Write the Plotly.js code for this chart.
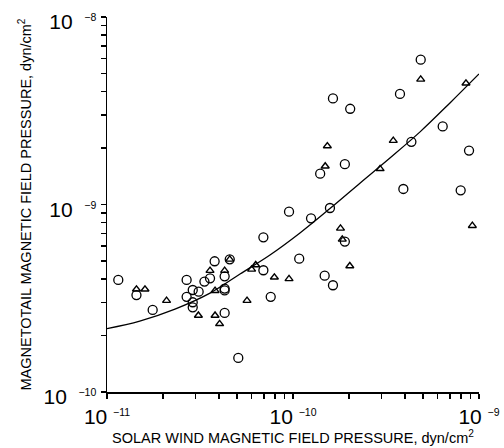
<!DOCTYPE html>
<html>
<head>
<meta charset="utf-8">
<script src="https://cdn.plot.ly/plotly-3.0.1.min.js"></script>
<style>
  html, body { margin: 0; padding: 0; background: #fff; }
  #chart { width: 504px; height: 448px; }
</style>
</head>
<body>
<div id="chart"></div>
<script>
// Solar wind vs. magnetotail magnetic field pressure (dyn/cm^2)

// Open-circle observations
const circleSolarWind = [
  1.15e-11, 1.44e-11, 1.76e-11, 2.68e-11, 2.68e-11, 2.89e-11, 2.89e-11, 2.89e-11,
  3.11e-11, 3.34e-11, 3.58e-11, 3.79e-11, 4.29e-11, 4.29e-11, 4.29e-11, 4.29e-11,
  4.57e-11, 5.08e-11, 6.93e-11, 6.93e-11, 7.59e-11, 9.52e-11, 1.08e-10, 1.25e-10,
  1.40e-10, 1.48e-10, 1.58e-10, 1.64e-10, 1.64e-10, 1.90e-10, 1.90e-10, 2.03e-10,
  3.76e-10, 3.92e-10, 4.33e-10, 4.86e-10, 6.38e-10, 7.97e-10, 8.84e-10
];
const circleTail = [
  3.96e-10, 3.29e-10, 2.74e-10, 3.96e-10, 3.22e-10, 3.50e-10, 3.01e-10, 2.83e-10,
  3.43e-10, 3.88e-10, 4.04e-10, 4.98e-10, 4.14e-10, 3.56e-10, 3.48e-10, 2.64e-10,
  5.10e-10, 1.52e-10, 6.68e-10, 4.46e-10, 3.22e-10, 9.16e-10, 5.14e-10, 8.44e-10,
  1.46e-9, 4.17e-10, 9.58e-10, 3.68e-9, 3.71e-10, 1.64e-9, 6.34e-10, 3.24e-9,
  3.89e-9, 1.21e-9, 2.16e-9, 5.92e-9, 2.61e-9, 1.19e-9, 1.94e-9
];

// Open-triangle observations
const triangleSolarWind = [
  1.44e-11, 1.60e-11, 2.09e-11, 3.10e-11, 3.58e-11, 3.81e-11, 3.81e-11, 4.03e-11,
  4.29e-11, 4.57e-11, 5.66e-11, 5.99e-11, 6.30e-11, 7.94e-11, 9.52e-11, 1.49e-10,
  1.53e-10, 1.80e-10, 1.84e-10, 2.02e-10, 2.94e-10, 3.46e-10, 4.86e-10, 8.51e-10,
  9.21e-10
];
const triangleTail = [
  3.53e-10, 3.53e-10, 3.07e-10, 2.56e-10, 4.44e-10, 3.47e-10, 2.56e-10, 2.31e-10,
  4.44e-10, 5.10e-10, 3.07e-10, 4.51e-10, 4.76e-10, 4.09e-10, 4.01e-10, 1.60e-9,
  2.05e-9, 7.46e-10, 6.52e-10, 4.70e-10, 1.55e-9, 2.19e-9, 4.65e-9, 4.43e-9,
  7.71e-10
];

// Fitted relation
const fitSolarWind = [
  1.00e-11, 1.50e-11, 2.32e-11, 3.58e-11, 5.19e-11, 7.52e-11, 1.09e-10,
  1.58e-10, 2.29e-10, 3.32e-10, 4.82e-10, 6.98e-10, 1.00e-9
];
const fitTail = [
  2.18e-10, 2.39e-10, 2.77e-10, 3.37e-10, 4.26e-10, 5.38e-10, 7.05e-10,
  9.52e-10, 1.30e-9, 1.77e-9, 2.44e-9, 3.48e-9, 4.97e-9
];

// Labelled decades; every decade also carries unlabelled 2..9 ticks
const xDecades = [-11, -10, -9];
const yDecades = [-10, -9, -8];

const FONT = 'Liberation Sans, Arial, sans-serif';

function powLabel(e, gap) {
  return '10' + gap + '<span style="font-size:10.5px;baseline-shift:8.5px">\u2212' + Math.abs(e) + '</span>';
}
function inbetweenValues(decades) {
  const v = [];
  for (let i = 0; i < decades.length - 1; i++) {
    for (let m = 2; m <= 9; m++) v.push(m * Math.pow(10, decades[i]));
  }
  return v;
}

const traces = [
  {
    x: fitSolarWind, y: fitTail, type: 'scatter', mode: 'lines',
    line: { color: 'black', width: 1.3, shape: 'spline', smoothing: 1 },
    hoverinfo: 'skip', showlegend: false
  },
  {
    x: circleSolarWind, y: circleTail, type: 'scatter', mode: 'markers',
    marker: { symbol: 'circle-open', size: 9, color: 'black', line: { width: 1.3, color: 'black' } },
    showlegend: false, cliponaxis: false
  },
  {
    x: triangleSolarWind, y: triangleTail, type: 'scatter', mode: 'markers',
    marker: { symbol: 'triangle-up-open', size: 7, color: 'black', line: { width: 1.4, color: 'black' } },
    showlegend: false, cliponaxis: false
  }
];

const tickStyle = { ticks: 'outside', ticklen: 5, tickwidth: 1.5, tickcolor: 'black' };

function logAxis(range, decades, gap, titleText) {
  return Object.assign({
    type: 'log', range: range, showline: true, linecolor: 'black', linewidth: 1.5,
    showgrid: false, zeroline: false,
    tickfont: { family: FONT, size: 21, color: 'black' }, tickmode: 'array',
    tickvals: decades.map(e => Math.pow(10, e)),
    ticktext: decades.map(e => powLabel(e, gap)),
    minor: Object.assign({ tickmode: 'array', tickvals: inbetweenValues(decades) }, tickStyle),
    title: { text: titleText, font: { family: FONT, size: 14.5, color: 'black' } }
  }, tickStyle);
}

const xaxis = logAxis([-11, -9], xDecades, '\u00a0', 'SOLAR WIND MAGNETIC FIELD PRESSURE, dyn/cm<sup>2</sup>');
xaxis.title.standoff = 5;
const yaxis = logAxis([-10, -8], yDecades, '\u00a0\u00a0', 'MAGNETOTAIL MAGNETIC FIELD PRESSURE, dyn/cm<sup>2</sup>');
yaxis.title.standoff = 8;
yaxis.ticklabelshift = 5;

const layout = {
  width: 504, height: 448,
  margin: { l: 107, r: 25, t: 17, b: 56 },
  xaxis: xaxis,
  yaxis: yaxis
};

Plotly.newPlot('chart', traces, layout, { displayModeBar: false, staticPlot: true });
</script>
</body>
</html>
